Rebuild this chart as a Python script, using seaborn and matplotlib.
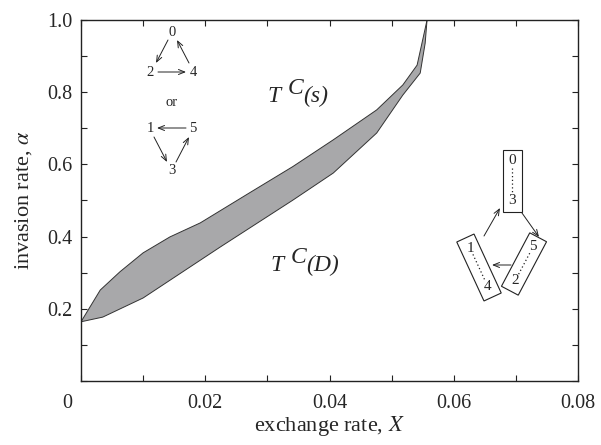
import numpy as np
import pandas as pd
import seaborn as sns
import matplotlib.pyplot as plt
import matplotlib.transforms as mtransforms
from matplotlib.patches import Polygon
from matplotlib.ticker import MultipleLocator

# boundaries of the shaded region (exchange rate X, invasion rate alpha)
upper_x = [0.0, 0.0031, 0.0063, 0.0100, 0.0143, 0.0192, 0.0272, 0.0341,
           0.0406, 0.0476, 0.0518, 0.0541, 0.0550, 0.0557]
upper_a = [0.164, 0.252, 0.303, 0.355, 0.399, 0.438, 0.522, 0.594,
           0.668, 0.751, 0.820, 0.875, 0.945, 1.0]
lower_x = [0.0, 0.0035, 0.0100, 0.0224, 0.0341, 0.0406, 0.0476, 0.0518,
           0.0546, 0.0554, 0.0557]
lower_a = [0.164, 0.177, 0.230, 0.371, 0.501, 0.576, 0.687, 0.792,
           0.853, 0.936, 1.0]

x_ticks = [0, 0.02, 0.04, 0.06, 0.08]
x_ticklabels = ["0", "0.02", "0.04", "0.06", "0.08"]
y_ticks = [0.2, 0.4, 0.6, 0.8, 1.0]
y_ticklabels = ["0.2", "0.4", "0.6", "0.8", "1.0"]

sns.set_style("ticks")
plt.rcParams["font.family"] = ["Liberation Serif", "DejaVu Serif"]
plt.rcParams["mathtext.fontset"] = "stix"

fig = plt.figure(figsize=(6.01, 4.45), dpi=100)
ax = fig.add_axes([81 / 601, 1 - 381 / 445, 497 / 601, 361 / 445])

upper = pd.DataFrame({"x": upper_x, "a": upper_a})
lower = pd.DataFrame({"x": lower_x, "a": lower_a})

poly_x = np.concatenate([upper["x"], lower["x"][::-1]])
poly_a = np.concatenate([upper["a"], lower["a"][::-1]])
ax.fill(poly_x, poly_a, color="#a8a8aa", lw=0)
sns.lineplot(data=upper, x="x", y="a", ax=ax, color="#333333", lw=0.7, sort=False)
sns.lineplot(data=lower, x="x", y="a", ax=ax, color="#333333", lw=0.7, sort=False)

ax.set_xlim(0, 0.08)
ax.set_ylim(0, 1.0)
ax.set_xticks(x_ticks)
ax.set_xticklabels(x_ticklabels)
ax.set_yticks(y_ticks)
ax.set_yticklabels(y_ticklabels)
ax.xaxis.set_minor_locator(MultipleLocator(0.01))
ax.yaxis.set_minor_locator(MultipleLocator(0.1))
ax.tick_params(which="both", direction="in", top=True, right=True,
               length=4.5, width=0.8, color="#222222")
ax.tick_params(axis="x", which="major", labelsize=14.5, pad=9)
ax.tick_params(axis="y", which="major", labelsize=14.5, pad=6)
for s in ax.spines.values():
    s.set_linewidth(1.0)
    s.set_color("#222222")

ax.set_xlabel("exchange rate, $X$", fontsize=16, labelpad=1)
ax.set_ylabel(r"invasion rate, $\alpha$", fontsize=16, labelpad=10)

# shift the "0" x tick label left like in the original
lab0 = ax.get_xticklabels()[0]
lab0.set_transform(lab0.get_transform()
                   + mtransforms.ScaledTranslation(-0.14, 0, fig.dpi_scale_trans))

# pixel coordinates (origin top-left) for the annotations
px = mtransforms.Affine2D().scale(1 / 601, -1 / 445).translate(0, 1) + fig.transFigure


def label(x, y, s, size=10.5, **kw):
    fig.text(x, y, s, transform=px, ha="center", va="center", fontsize=size, **kw)


def arrow(x0, y0, x1, y1):
    ax.annotate("", xy=(x1, y1), xycoords=px, xytext=(x0, y0), textcoords=px,
                arrowprops=dict(arrowstyle="->,head_length=0.45,head_width=0.18",
                                lw=0.7, color="#222222", shrinkA=0, shrinkB=0),
                annotation_clip=False)


def box(p, q, a, b, ext=11, half=9.5):
    p = np.array(p, float)
    q = np.array(q, float)
    u = (q - p) / np.linalg.norm(q - p)
    n = np.array([-u[1], u[0]])
    s, e = p - ext * u, q + ext * u
    corners = [s + half * n, e + half * n, e - half * n, s - half * n]
    fig.add_artist(Polygon(corners, closed=True, fill=False, lw=0.8,
                           ec="#222222", transform=px))
    d0, d1 = p + 7 * u, q - 7 * u
    fig.add_artist(plt.Line2D([d0[0], d1[0]], [d0[1], d1[1]], lw=0.9, ls=(0, (1, 2)),
                              color="#222222", transform=px))
    label(p[0], p[1], a, size=11)
    label(q[0], q[1], b, size=11)


# region labels
def region(x, y, sub):
    fig.text(x, y, "T", transform=px, fontsize=17, style="italic", va="baseline")
    fig.text(x + 21, y - 8, "C", transform=px, fontsize=17, style="italic", va="baseline")
    fig.text(x + 36, y, sub, transform=px, fontsize=17, style="italic", va="baseline")


region(267, 102, "(s)")
region(270, 271, "(D)")

# top-left cycle diagrams
label(172, 32, "0")
label(150, 72, "2")
label(193, 72, "4")
arrow(168, 40, 156, 63)
arrow(189, 63, 177, 40)
arrow(158, 72, 186, 72)
label(172, 103, "or")
label(150, 128, "1")
label(193, 128, "5")
label(172, 170, "3")
arrow(186, 128, 157, 128)
arrow(154, 137, 167, 162)
arrow(176, 162, 189, 137)

# right cycle diagram
box((512, 161), (512, 201), "0", "3")
box((470, 248), (488, 287), "1", "4")
box((533, 247), (515, 281), "5", "2")
arrow(484, 236, 500, 208)
arrow(522, 213, 539, 237)
arrow(511, 265, 492, 265)

fig.savefig("out.png", dpi=100)
plt.close(fig)
